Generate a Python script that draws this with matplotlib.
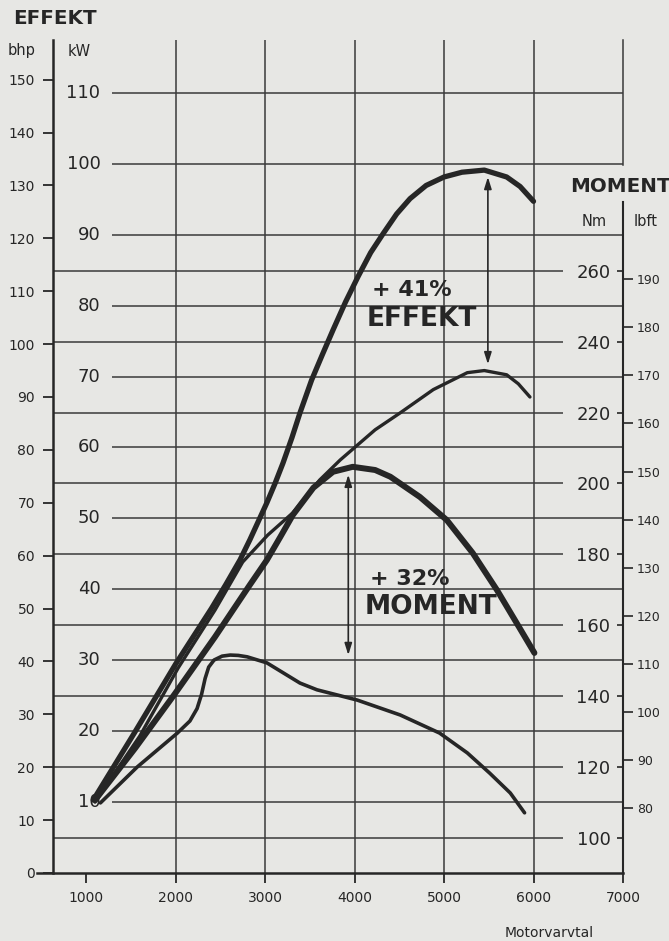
import matplotlib.pyplot as plt

# new engine, power (bhp) against engine speed (rpm)
rpm_power_new = [1080, 1540, 2000, 2400, 2560, 2720, 2830, 3020, 3110, 3200, 3300, 3390, 3520,
                 3640, 3760, 3900, 4040, 4180, 4320, 4470, 4620, 4800, 5000, 5200, 5450,
                 5700, 5850, 6000]
bhp_power_new = [13.8, 26.5, 39.5, 50.0, 54.5, 59.2, 63.0, 70.0, 73.6, 77.5, 82.3, 87.0, 93.2,
                 98.0, 102.7, 108.0, 112.8, 117.3, 120.9, 124.6, 127.5, 130.0, 131.6, 132.5, 132.9,
                 131.6, 129.8, 127.0]

# old engine, power (bhp)
rpm_power_old = [1100, 1600, 2030, 2440, 2750, 3030, 3310, 3610, 3840, 4230, 4510,
                 4880, 5260, 5450, 5700, 5830, 5960]
bhp_power_old = [13.4, 25.9, 38.8, 49.7, 58.8, 63.9, 68.1, 74.3, 78.1, 83.8, 87.0,
                 91.4, 94.6, 95.0, 94.2, 92.5, 90.0]

# new engine, torque (Nm)
rpm_torque_new = [1100, 1550, 1990, 2440, 2830, 3020, 3170, 3310, 3540, 3760, 3980,
                  4230, 4400, 4730, 5030, 5320, 5590, 5810, 6010]
nm_torque_new = [110.7, 125.4, 140.6, 156.7, 171.4, 178.4, 184.9, 191.1, 198.8, 203.3, 204.7,
                 203.8, 201.9, 196.2, 189.7, 180.4, 170.0, 160.7, 152.2]

# old engine, torque (Nm)
rpm_torque_old = [1160, 1570, 2020, 2160, 2240, 2290, 2330, 2370, 2430, 2520, 2610, 2700,
                  2800, 3020, 3390, 3580, 4030, 4510, 4950, 5260, 5510, 5740, 5900]
nm_torque_old = [109.9, 120.0, 129.6, 133.0, 136.5, 140.5, 145.0, 148.2, 150.2, 151.3, 151.6,
                 151.5, 151.1, 149.4, 143.7, 141.8, 138.9, 134.7, 129.6, 124.0, 118.3, 112.7, 107.1]

# axis ticks
rpm_ticks = [1000, 2000, 3000, 4000, 5000, 6000, 7000]
bhp_ticks = list(range(0, 151, 10))
kw_ticks = list(range(10, 111, 10))
nm_ticks = list(range(100, 261, 20))
lbft_ticks = list(range(80, 191, 10))

KW_TO_BHP = 1.341
NM_PER_LBFT = 1.3558


def nm_to_bhp(nm):
    # the torque scale sits against the bhp scale: 100 Nm at 6.6 bhp
    return 6.62 + (nm - 100) * 0.6703


def bhp_to_nm(b):
    return 100 + (b - 6.62) / 0.6703


bg = '#e7e7e4'
ink = '#262626'
grid = '#3a3a3a'

fig = plt.figure(figsize=(6.69, 9.41), dpi=100, facecolor=bg)
rect = [53 / 669, 68 / 941, 570 / 669, 833 / 941]
ax = fig.add_axes(rect)
ax.set_facecolor(bg)
ax.set_xlim(630, 7000)
ax.set_ylim(0, 157.5)
for s in ax.spines.values():
    s.set_visible(False)

# grid
ax.vlines(rpm_ticks[1:-1], 0, 157.5, color=grid, lw=1.1)
ax.hlines([k * KW_TO_BHP for k in kw_ticks], 1290, 7000, color=grid, lw=1.1)
ax.hlines([nm_to_bhp(n) for n in nm_ticks], 630, 6330, color=grid, lw=1.1)

# axis lines
ax.plot([630, 630], [0, 157.5], color=ink, lw=1.8, clip_on=False)
ax.plot([450, 7000], [0, 0], color=ink, lw=1.8, clip_on=False)
ax.plot([7000, 7000], [0, 126.9], color=ink, lw=1.5, clip_on=False)
ax.plot([7000, 7000], [133.9, 157.5], color=grid, lw=1.1, clip_on=False)

# curves
line_kw = dict(color=ink, solid_capstyle='round', solid_joinstyle='round')
ax.plot(rpm_power_new, bhp_power_new, lw=3.8, **line_kw)
ax.plot(rpm_power_old, bhp_power_old, lw=2.4, **line_kw)
ax.plot(rpm_torque_new, [nm_to_bhp(n) for n in nm_torque_new], lw=4.3, **line_kw)
ax.plot(rpm_torque_old, [nm_to_bhp(n) for n in nm_torque_old], lw=2.6, **line_kw)

# arrows between peaks
arrow = dict(arrowstyle='<|-|>,head_length=0.7,head_width=0.22', color=ink, lw=1.2,
             shrinkA=0, shrinkB=0)
ax.annotate('', xy=(5490, max(bhp_power_new) - 1.3), xytext=(5490, max(bhp_power_old) + 1.2),
            arrowprops=arrow)
ax.annotate('', xy=(3930, nm_to_bhp(max(nm_torque_new)) - 1.5),
            xytext=(3930, nm_to_bhp(max(nm_torque_old))), arrowprops=arrow)

ax.text(4195, 110.3, '+ 41%', fontsize=16, fontweight='bold', color=ink, va='center')
ax.text(4139, 104.8, 'EFFEKT', fontsize=19, fontweight='bold', color=ink, va='center')
ax.text(4172, 55.6, '+ 32%', fontsize=16, fontweight='bold', color=ink, va='center')
ax.text(4116, 50.3, 'MOMENT', fontsize=19, fontweight='bold', color=ink, va='center')

# bhp / rpm ticks
ax.set_yticks(bhp_ticks)
ax.set_xticks(rpm_ticks)
ax.tick_params(axis='y', direction='out', length=7, width=1.3, pad=6, labelsize=10,
               color=ink, labelcolor=ink)
ax.tick_params(axis='x', direction='out', length=7, width=1.3, pad=6, labelsize=10,
               color=ink, labelcolor=ink)

# kW labels
for k in kw_ticks:
    ax.text(1160, k * KW_TO_BHP, str(k), ha='right', va='center', fontsize=13, color=ink)

# Nm scale, labels inside on the right
axn = fig.add_axes(rect)
axn.patch.set_visible(False)
axn.set_ylim(bhp_to_nm(0), bhp_to_nm(157.5))
axn.xaxis.set_visible(False)
for s in axn.spines.values():
    s.set_visible(False)
axn.spines['left'].set_position(('axes', 1.0))
axn.yaxis.set_ticks_position('left')
axn.set_yticks(nm_ticks)
axn.tick_params(axis='y', direction='out', length=4, width=1.2, pad=5, labelsize=13,
                color=ink, labelcolor=ink)

# lbft scale outside on the right
axl = fig.add_axes(rect)
axl.patch.set_visible(False)
axl.set_ylim(bhp_to_nm(0) / NM_PER_LBFT, bhp_to_nm(157.5) / NM_PER_LBFT)
axl.xaxis.set_visible(False)
for s in axl.spines.values():
    s.set_visible(False)
axl.yaxis.set_ticks_position('right')
axl.set_yticks(lbft_ticks)
axl.tick_params(axis='y', direction='out', length=7, width=1.2, pad=3, labelsize=9,
                color=ink, labelcolor=ink)

# headings
fig.text(13 / 669, 1 - 18 / 941, 'EFFEKT', fontsize=14.3, fontweight='bold', color=ink, va='center')
fig.text(8 / 669, 1 - 51 / 941, 'bhp', fontsize=10.5, color=ink, va='center')
fig.text(68 / 669, 1 - 51 / 941, 'kW', fontsize=10.5, color=ink, va='center')
fig.text(570 / 669, 1 - 186 / 941, 'MOMENT', fontsize=14.3, fontweight='bold', color=ink, va='center')
fig.text(582 / 669, 1 - 222 / 941, 'Nm', fontsize=10.5, color=ink, va='center')
fig.text(634 / 669, 1 - 222 / 941, 'lbft', fontsize=10.5, color=ink, va='center')
fig.text(505 / 669, 1 - 933 / 941, 'Motorvarvtal', fontsize=10, color=ink, va='center')

fig.savefig('out.png', dpi=100, facecolor=bg)
